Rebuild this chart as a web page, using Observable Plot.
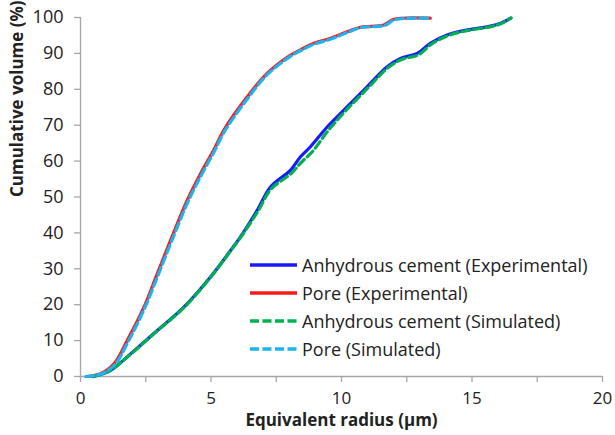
<!DOCTYPE html>
<html>
<head>
<meta charset="utf-8">
<script src="https://cdn.jsdelivr.net/npm/d3@7"></script>
<script src="https://cdn.jsdelivr.net/npm/@observablehq/plot@0.6"></script>
<style>
  html, body { margin: 0; padding: 0; background: #fff; }
  #wrap { position: relative; width: 615px; height: 435px; font-family: "Open Sans", sans-serif; }
  #legend { position: absolute; left: 250px; top: 251px; font-size: 18px; color: #222; }
  #legend .row { display: flex; align-items: center; height: 28px; }
  #legend svg { width: 48px; height: 10px; margin-right: 4px; flex: none; }
  #legend span { white-space: nowrap; }
</style>
</head>
<body>
<div id="wrap"><div id="chart"></div><div id="legend"></div></div>
<script>
// ---- data ----
const seriesNames = [
  "Anhydrous cement (Experimental)",
  "Pore (Experimental)",
  "Anhydrous cement (Simulated)",
  "Pore (Simulated)"
];
const seriesColors = ["#1a1aff", "#ff1a1a", "#00b050", "#1ab4f0"];

const poreExpX = [0.26, 0.77, 1.28, 1.79, 2.43, 2.94, 3.45, 4.09, 4.6, 5.1, 5.49, 6.39, 7.15, 8.05, 8.43, 8.94, 9.58, 10.22, 10.73, 11.62, 12.0, 13.4];
const poreExpY = [0, 0.75, 3.5, 10, 19.3, 28.6, 37.9, 49.1, 56.5, 63, 68.6, 77.9, 84.4, 89.5, 91.0, 92.8, 94.2, 96, 97.3, 97.9, 99.5, 99.8];

const poreSimX = [0.2, 0.75, 1.3, 1.82, 2.45, 2.97, 3.48, 4.12, 4.63, 5.12, 5.52, 6.42, 7.17, 8.07, 8.45, 8.96, 9.6, 10.25, 10.75, 11.65, 12.05, 13.35];
const poreSimY = [0, 0.6, 3.2, 9.6, 18.9, 28.2, 37.5, 48.7, 56.1, 62.6, 68.3, 77.6, 84.2, 89.3, 90.8, 92.6, 94.0, 95.9, 97.2, 97.8, 99.4, 99.8];

const cementExpX = [0.5, 1.15, 1.92, 2.94, 3.96, 4.98, 5.75, 6.13, 6.77, 7.28, 8.05, 8.43, 8.81, 9.45, 10.09, 10.98, 11.75, 12.26, 12.9, 13.4, 14.05, 14.8, 15.58, 16.1, 16.48];
const cementExpY = [0, 1.7, 6.3, 12.8, 19.3, 27.7, 35.1, 38.9, 46.3, 52.8, 57.5, 61.2, 64.0, 69.5, 74.2, 80.7, 86.3, 88.6, 90, 92.8, 95.1, 96.5, 97.4, 98.4, 99.8];

const cementSimX = [0.45, 1.12, 1.9, 2.92, 3.95, 4.97, 5.74, 6.12, 6.78, 7.3, 8.08, 8.48, 8.88, 9.5, 10.12, 11.0, 11.78, 12.3, 12.95, 13.45, 14.1, 14.85, 15.6, 16.12, 16.5];
const cementSimY = [0, 1.6, 6.1, 12.6, 19.1, 27.5, 34.9, 38.6, 45.8, 52.2, 56.6, 59.8, 62.6, 68.6, 73.7, 80.3, 86.0, 88.3, 89.6, 92.6, 95.0, 96.4, 97.3, 98.3, 99.9];

const xTicks = [0, 2.5, 5, 7.5, 10, 12.5, 15, 17.5, 20];
const yTicks = [0, 10, 20, 30, 40, 50, 60, 70, 80, 90, 100];
const xTitle = "Equivalent radius (µm)";
const yTitle = "Cumulative volume (%)";

// ---- build tables ----
const toRows = (xs, ys) => xs.map((x, i) => ({x, y: ys[i]}));
const cementExp = toRows(cementExpX, cementExpY);
const poreExp = toRows(poreExpX, poreExpY);
const cementSim = toRows(cementSimX, cementSimY);
const poreSim = toRows(poreSimX, poreSimY);

const axisColor = "#a6a6a6";
const textColor = "#222";

const chart = Plot.plot({
  width: 615,
  height: 435,
  marginLeft: 80,
  marginRight: 13,
  marginTop: 17,
  marginBottom: 59,
  style: {fontFamily: "Open Sans, sans-serif", fontSize: "18px", color: textColor, background: "#fff"},
  x: {domain: [0, 20]},
  y: {domain: [0, 100]},
  marks: [
    Plot.ruleX([0], {stroke: axisColor, strokeWidth: 1.3}),
    Plot.ruleY([0], {stroke: axisColor, strokeWidth: 1.3}),
    Plot.axisX({ticks: xTicks, tickSize: 6, tickPadding: 9, stroke: axisColor, strokeWidth: 1.3,
      tickFormat: d => (d % 5 === 0 ? String(d) : ""), label: null, fill: textColor, fontSize: 17}),
    Plot.axisY({ticks: yTicks, tickSize: 6, tickPadding: 11, stroke: axisColor, strokeWidth: 1.3,
      tickFormat: d => String(d), label: null, fill: textColor, fontSize: 18}),
    Plot.line(cementExp, {x: "x", y: "y", stroke: seriesColors[0], strokeWidth: 3.2, curve: "catmull-rom"}),
    Plot.line(poreExp, {x: "x", y: "y", stroke: seriesColors[1], strokeWidth: 3.2, curve: "catmull-rom"}),
    Plot.line(cementSim, {x: "x", y: "y", stroke: seriesColors[2], strokeWidth: 3.2, strokeDasharray: "8,4", curve: "catmull-rom"}),
    Plot.line(poreSim, {x: "x", y: "y", stroke: seriesColors[3], strokeWidth: 3.2, strokeDasharray: "8,4", curve: "catmull-rom"}),
    Plot.text([xTitle], {frameAnchor: "bottom", dy: 49, fontWeight: "bold", fontSize: 17, fill: textColor}),
    Plot.text([yTitle], {frameAnchor: "left", dx: -63, rotate: -90, fontWeight: "bold", fontSize: 17, fill: textColor})
  ]
});
document.getElementById("chart").appendChild(chart);

// ---- legend (overlaid inside the plot area) ----
const legend = document.getElementById("legend");
seriesNames.forEach((name, i) => {
  const row = document.createElement("div");
  row.className = "row";
  const dashed = i >= 2;
  row.innerHTML = `<svg viewBox="0 0 48 10"><line x1="0" y1="5" x2="47" y2="5" stroke="${seriesColors[i]}" stroke-width="3.5" ${dashed ? 'stroke-dasharray="9,3.5"' : ''}/></svg><span>${name}</span>`;
  legend.appendChild(row);
});
</script>
</body>
</html>
